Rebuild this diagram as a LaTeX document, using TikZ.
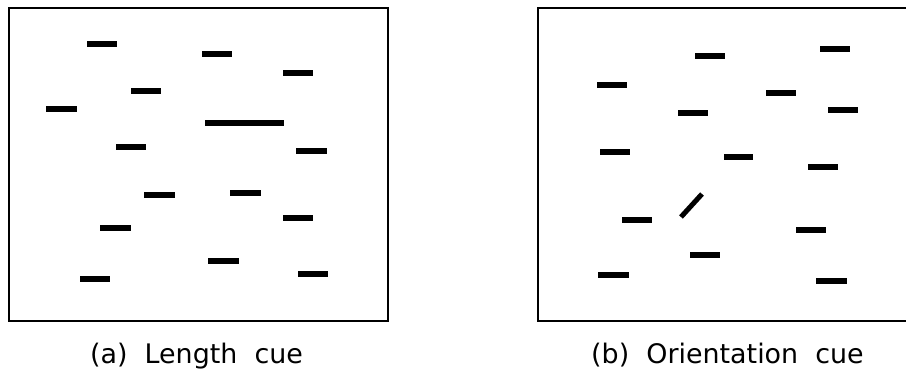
\documentclass[tikz,border=0pt]{standalone}
\usepackage{fontspec}
\setmainfont{DejaVu Sans}
\tikzset{
  frame/.style={draw=black, line width=2pt},
  bar/.style={line width=6pt, line cap=butt},
  caption/.style={anchor=base, inner sep=0pt, font=\fontsize{26.9pt}{30pt}\selectfont}
}
\begin{document}
\begin{tikzpicture}[x=1pt,y=-1pt]
\useasboundingbox (0,0) rectangle (906,371);
\clip (0,0) rectangle (906,371);
\fill[white] (0,0) rectangle (906,371);
% frames
\draw[frame] (9,8) rectangle (388,321);
\draw[frame] (538,8) rectangle (930,321);
% left panel bars
\foreach \a/\b/\y in {87/117/44,202/232/54,283/313/73,131/161/91,46/77/109,205/284/123,116/146/147,296/327/151,144/175/195,230/261/193,283/313/218,100/131/228,208/239/261,80/110/279,298/328/274}
  \draw[bar] (\a,\y) -- (\b,\y);
% right panel bars
\foreach \a/\b/\y in {695/725/56,820/850/49,597/627/85,766/796/93,678/708/113,828/858/110,600/630/152,724/753/157,808/838/167,622/652/220,796/826/230,690/720/255,598/629/275,816/847/281}
  \draw[bar] (\a,\y) -- (\b,\y);
\draw[line width=5pt, line cap=butt] (681,217) -- (702,194);
% captions
\node[caption] (capa) at (196.5,364) {(a)\ \ Length\ \ cue};
\node[caption] (capb) at (727.5,364) {(b)\ \ Orientation\ \ cue};
\end{tikzpicture}
\end{document}
